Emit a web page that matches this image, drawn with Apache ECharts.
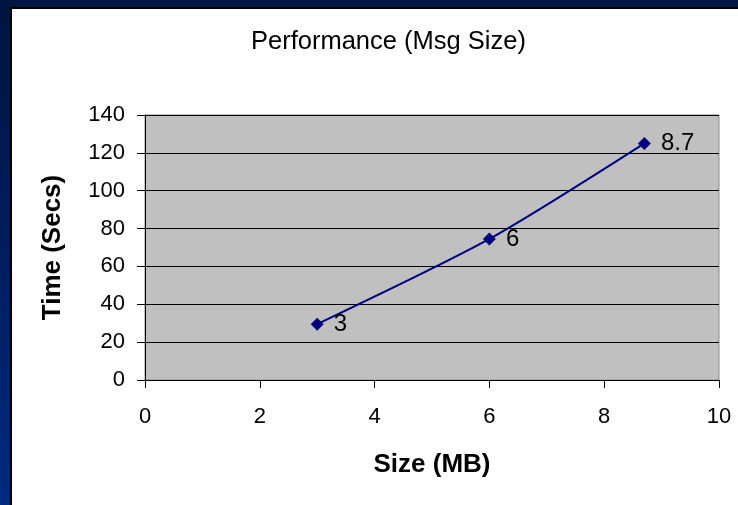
<!DOCTYPE html>
<html>
<head>
<meta charset="utf-8">
<script src="https://cdn.jsdelivr.net/npm/echarts@6/dist/echarts.min.js"></script>
<style>
  html, body { margin: 0; padding: 0; }
  body {
    width: 738px; height: 505px; overflow: hidden; position: relative;
    background: linear-gradient(to bottom, #00153f 0%, #001d5c 50%, #002a80 100%);
  }
  #frame {
    position: absolute; left: 10px; top: 7px; right: 0; bottom: 0;
    background: #000;
  }
  #chart {
    position: absolute; left: 12px; top: 9px; width: 726px; height: 496px;
    background: #ffffff;
  }
</style>
</head>
<body>
<div id="frame"></div>
<div id="chart"></div>
<script>
// Message size (MB) against transfer time (seconds)
const sizesMB = [3, 6, 8.7];
const timesSecs = [29.5, 74.5, 125];
const xTicks = [0, 2, 4, 6, 8, 10];
const yTicks = [0, 20, 40, 60, 80, 100, 120, 140];

const chart = echarts.init(document.getElementById('chart'), null, { renderer: 'canvas' });
const font = 'Liberation Sans, Arial, sans-serif';

chart.setOption({
  animation: false,
  title: {
    text: 'Performance (Msg Size)',
    left: 234,
    top: 15,
    textStyle: { fontFamily: font, fontSize: 25.5, fontWeight: 'normal', color: '#000' }
  },
  grid: {
    left: 133, right: 19, top: 106, bottom: 125,
    show: true, backgroundColor: '#c0c0c0', borderColor: '#8c8c8c', borderWidth: 1
  },
  xAxis: {
    type: 'value',
    min: xTicks[0], max: xTicks[xTicks.length - 1], interval: xTicks[1] - xTicks[0],
    name: 'Size (MB)', nameLocation: 'middle', nameGap: 72,
    nameTextStyle: { fontFamily: font, fontSize: 26, fontWeight: 'bold', color: '#000' },
    axisLine: { show: true, onZero: false, lineStyle: { color: '#000', width: 1 } },
    axisTick: { show: true, inside: false, length: 8, lineStyle: { color: '#000' } },
    axisLabel: { fontFamily: font, fontSize: 22, color: '#000', margin: 26 },
    splitLine: { show: false }
  },
  yAxis: {
    type: 'value',
    min: yTicks[0], max: yTicks[yTicks.length - 1], interval: yTicks[1] - yTicks[0],
    name: 'Time (Secs)', nameLocation: 'middle', nameGap: 79, nameRotate: 90,
    nameTextStyle: { fontFamily: font, fontSize: 26, fontWeight: 'bold', color: '#000' },
    axisLine: { show: true, onZero: false, lineStyle: { color: '#000', width: 1 } },
    axisTick: { show: true, inside: false, length: 8, lineStyle: { color: '#000' } },
    axisLabel: { fontFamily: font, fontSize: 22, color: '#000', margin: 20 },
    splitLine: { show: true, lineStyle: { color: '#000', width: 1 } }
  },
  series: [{
    type: 'line',
    data: sizesMB.map((s, i) => [s, timesSecs[i]]),
    smooth: 0.25,
    symbol: 'diamond',
    symbolSize: 13,
    itemStyle: { color: '#000080' },
    lineStyle: { color: '#000080', width: 2 },
    label: {
      show: true, position: 'right', distance: 10,
      fontFamily: font, fontSize: 24, color: '#000',
      formatter: p => String(p.value[0])
    }
  }]
});
</script>
</body>
</html>
